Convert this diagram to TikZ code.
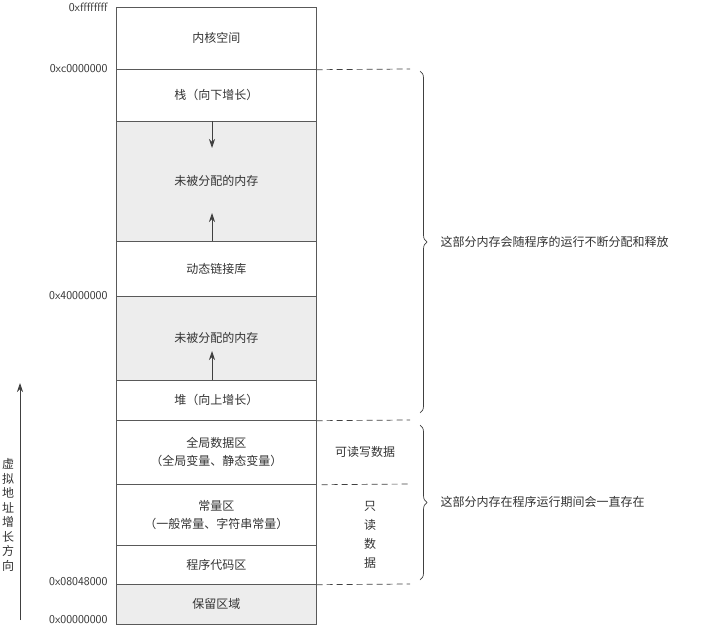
\documentclass[tikz,border=0pt]{standalone}
\usepackage{fontspec}
\newfontfamily\cjk{Noto Sans CJK SC}
\usetikzlibrary{decorations.pathreplacing,arrows.meta}
\tikzset{
  seg/.style={draw=black!65, line width=0.7pt, minimum width=200pt, inner sep=0pt, font=\cjk\fontsize{12}{18}\selectfont, text=black!80, align=center, anchor=north west},
  free/.style={seg, fill=black!7},
  addr/.style={anchor=east, font=\fontsize{12}{14}\selectfont\sffamily, text=black!80},
  note/.style={anchor=west, font=\cjk\fontsize{12}{14}\selectfont, text=black!80},
  sep/.style={dash pattern=on 6pt off 4pt, draw=black!75, line width=0.7pt},
  growarrow/.style={-{Stealth[length=9pt,width=6pt]}, draw=black!75, line width=0.8pt}
}
\begin{document}
\begin{tikzpicture}[x=1pt,y=-1pt]
\useasboundingbox (0,0) rectangle (705,626);
% memory layout column
\node[seg, minimum height=62pt] (kern) at (116,7) {内核空间};
\node[seg, minimum height=52pt] (stack) at (116,69) {栈（向下增长）};
\node[free, minimum height=120pt] (free1) at (116,121) {未被分配的内存};
\node[seg, minimum height=55pt] (dll) at (116,241) {动态链接库};
\node[free, minimum height=84pt] (free2) at (116,296) {未被分配的内存};
\node[seg, minimum height=40pt] (heap) at (116,380) {堆（向上增长）};
\node[seg, minimum height=64pt] (data) at (116,420) {全局数据区\\（全局变量、静态变量）};
\node[seg, minimum height=61pt] (const) at (116,484) {常量区\\（一般常量、字符串常量）};
\node[seg, minimum height=39pt] (code) at (116,545) {程序代码区};
\node[free, minimum height=40pt] (resv) at (116,584) {保留区域};

% growth arrows
\coordinate (s1) at (212,121); \coordinate (s2) at (212,148);
\coordinate (h1) at (212,241); \coordinate (h2) at (212,213);
\coordinate (p1) at (212,380); \coordinate (p2) at (212,351);
\draw[growarrow] (s1) -- (s2);
\draw[growarrow] (h1) -- (h2);
\draw[growarrow] (p1) -- (p2);

% addresses
\node[addr] (a0) at (111,7) {0xffffffff};
\node[addr] (a1) at (111,69) {0xc0000000};
\node[addr] (a2) at (111,296) {0x40000000};
\node[addr] (a3) at (111,582) {0x08048000};
\node[addr] (a4) at (111,620) {0x00000000};

% dashed separators
\coordinate (d1) at (410,69);
\coordinate (d2) at (410,420);
\coordinate (d3) at (410,484);
\coordinate (d4) at (410,584);
\draw[sep] (kern.south east) -- (d1);
\draw[sep] (heap.south east) -- (d2);
\draw[sep] ([xshift=5pt]data.south east) -- (d3);
\draw[sep] (code.south east) -- (d4);
\node[note, anchor=center] (rw) at (365,452) {可读写数据};
\node[note, anchor=center, align=center, font=\cjk\fontsize{12}{19}\selectfont] (ro) at (370,535) {只\\读\\数\\据};

% braces
\coordinate (b1) at (420,71); \coordinate (b2) at (420,413);
\coordinate (b3) at (420,425); \coordinate (b4) at (420,580);
\draw[decorate, decoration={brace, amplitude=7pt}, draw=black!75, line width=0.7pt] (b1) -- (b2);
\draw[decorate, decoration={brace, amplitude=7pt}, draw=black!75, line width=0.7pt] (b3) -- (b4);
\node[note] (n1) at (437,242) {这部分内存会随程序的运行不断分配和释放};
\node[note] (n2) at (437,502) {这部分内存在程序运行期间会一直存在};

% address growth direction
\coordinate (g1) at (20,620); \coordinate (g2) at (20,383);
\draw[growarrow] (g1) -- (g2);
\node[note, anchor=north, align=center, font=\cjk\fontsize{12}{14.5}\selectfont] (gd) at (8,455) {虚\\拟\\地\\址\\增\\长\\方\\向};
\end{tikzpicture}
\end{document}
